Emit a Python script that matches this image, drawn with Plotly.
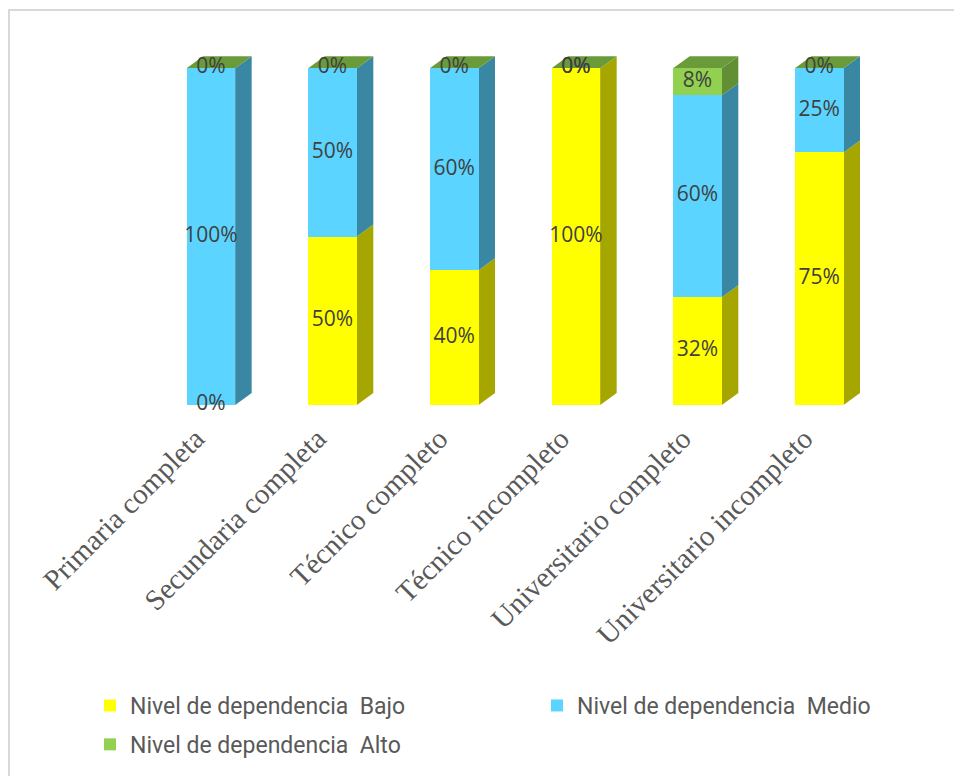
import plotly.graph_objects as go

categories = ["Primaria completa", "Secundaria completa", "Técnico completo",
              "Técnico incompleto", "Universitario completo", "Universitario incompleto"]
bajo = [0, 50, 40, 100, 32, 75]
medio = [100, 50, 60, 0, 60, 25]
alto = [0, 0, 0, 0, 8, 0]
series_names = ["Nivel de dependencia\u00a0 Bajo", "Nivel de dependencia\u00a0 Medio",
                "Nivel de dependencia\u00a0 Alto"]

front_colors = ["#FFFF00", "#5BD5FF", "#92D050"]
side_colors = ["#A6A600", "#3A87A4", "#628F33"]
top_color = "#6A9B3A"
legend_ids = ["legend", "legend2", "legend"]
legend_groups = ["g1", "g2", "g3"]

W, H = 954, 776
ML, MR, MT, MB = 150, 74, 48, 371
YMAX = 106
plot_w = W - ML - MR
plot_h = H - MT - MB
px_x = plot_w / len(categories)   # pixels per x unit
px_y = plot_h / YMAX              # pixels per y unit
bar_w = 0.40
dxu = 16.5 / px_x
dyu = 12.0 / px_y

xs = list(range(len(categories)))
series = [bajo, medio, alto]

fig = go.Figure()
for name, vals, col, lg, grp in zip(series_names, series, front_colors, legend_ids, legend_groups):
    fig.add_trace(go.Bar(x=xs, y=vals, name=name, width=bar_w, legend=lg, legendgroup=grp,
                         marker=dict(color=col, line=dict(width=0)),
                         hoverinfo="skip"))

shapes = []
label_x, label_y, label_t = [], [], []
for i in xs:
    base = 0
    for s, vals in enumerate(series):
        v = vals[i]
        xr = i + bar_w / 2
        if v > 0:
            path = (f"M{xr},{base} L{xr + dxu},{base + dyu} "
                    f"L{xr + dxu},{base + v + dyu} L{xr},{base + v} Z")
            shapes.append(dict(type="path", path=path, xref="x", yref="y",
                               fillcolor=side_colors[s], line=dict(width=0),
                               layer="below"))
        label_x.append(i)
        label_y.append(base + v / 2)
        label_t.append(f"{v}%")
        base += v
    xl = i - bar_w / 2
    xr = i + bar_w / 2
    path = (f"M{xl},{base} L{xr},{base} L{xr + dxu},{base + dyu} "
            f"L{xl + dxu},{base + dyu} Z")
    shapes.append(dict(type="path", path=path, xref="x", yref="y",
                       fillcolor=top_color, line=dict(width=0), layer="below"))

fig.add_trace(go.Scatter(x=label_x, y=label_y, text=label_t, mode="text",
                         cliponaxis=False,
                         textfont=dict(family="Open Sans", size=21, color="#404040"),
                         showlegend=False, hoverinfo="skip"))

# outer frame
shapes.append(dict(type="rect", xref="paper", yref="paper",
                   x0=(9 - ML) / plot_w, x1=(975 - ML) / plot_w,
                   y0=(H - MB - 800) / plot_h, y1=(H - MB - 10) / plot_h,
                   line=dict(color="#D9D9D9", width=2), fillcolor="rgba(0,0,0,0)",
                   layer="below"))

legend_font = dict(family="Roboto", size=23, color="#595959")
fig.update_layout(
    width=W, height=H,
    margin=dict(l=ML, r=MR, t=MT, b=MB, autoexpand=False),
    barmode="stack",
    paper_bgcolor="white", plot_bgcolor="white",
    shapes=shapes,
    showlegend=True,
    legend=dict(orientation="v", xref="container", yref="container",
                x=90 / W, xanchor="left", y=1 - 684 / H, yanchor="top",
                traceorder="grouped", tracegroupgap=6,
                font=legend_font, bgcolor="rgba(0,0,0,0)"),
    legend2=dict(orientation="v", xref="container", yref="container",
                 x=537 / W, xanchor="left", y=1 - 684 / H, yanchor="top",
                 font=legend_font, bgcolor="rgba(0,0,0,0)"),
    xaxis=dict(range=[-0.5, len(categories) - 0.5], tickvals=xs, ticktext=categories,
               tickangle=-45, showgrid=False, zeroline=False, showline=False, ticks="",
               ticklabelshift=-15, ticklabelstandoff=10,
               tickfont=dict(family="Liberation Serif", size=29, color="#595959")),
    yaxis=dict(range=[0, YMAX], visible=False, showgrid=False, zeroline=False),
)

fig.write_html("out.html", config={"displayModeBar": False},
               post_script="document.body.style.margin='0';")
